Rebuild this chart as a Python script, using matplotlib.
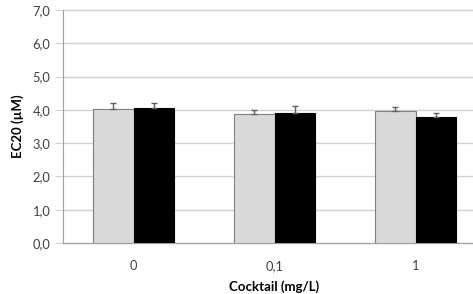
import matplotlib.pyplot as plt
import numpy as np

categories = ['0', '0,1', '1']
serie_gris = [4.02, 3.87, 3.97]
err_gris = [0.18, 0.12, 0.12]
serie_negra = [4.06, 3.90, 3.78]
err_negra = [0.14, 0.22, 0.13]
yticks = [0, 1, 2, 3, 4, 5, 6, 7]


def main():
    plt.rcParams['font.family'] = ['Lato', 'DejaVu Sans']
    fig = plt.figure(figsize=(4.73, 2.94), dpi=100)
    # plot area runs a little past the right edge, as in the original crop
    ax = fig.add_axes([63 / 473, 51 / 294, 423 / 473, 233 / 294])

    x = np.arange(len(categories))
    width = 0.284

    ax.bar(x - width / 2, serie_gris, width, color='#d9d9d9', edgecolor='#7f7f7f',
           linewidth=0.8, zorder=3)
    ax.bar(x + width / 2, serie_negra, width, color='black', edgecolor='black',
           linewidth=0.8, zorder=3)
    ax.errorbar(x - width / 2, serie_gris, yerr=[np.zeros(3), err_gris], fmt='none',
                ecolor='#606060', elinewidth=1, capsize=2.5, capthick=1, zorder=4)
    ax.errorbar(x + width / 2, serie_negra, yerr=[np.zeros(3), err_negra], fmt='none',
                ecolor='#606060', elinewidth=1, capsize=2.5, capthick=1, zorder=4)

    ax.set_xlim(-0.5, len(categories) - 0.5)
    ax.set_ylim(0, 7)
    ax.set_yticks(yticks)
    ax.set_yticklabels([('%.1f' % v).replace('.', ',') for v in yticks])
    ax.set_xticks(x)
    ax.set_xticklabels(categories)

    ax.yaxis.grid(True, color='#d0d0d0', linewidth=1, zorder=0, clip_on=False)
    ax.set_axisbelow(True)
    for side in ['top', 'right']:
        ax.spines[side].set_visible(False)
    ax.spines['left'].set_color('#a0a0a0')
    ax.spines['bottom'].set_color('#a0a0a0')
    ax.tick_params(axis='y', length=6, color='#d0d0d0', labelsize=9.3,
                   labelcolor='#404040', pad=3)
    ax.tick_params(axis='x', length=0, labelsize=9.3, labelcolor='#404040', pad=12)

    ax.set_ylabel('EC20 (µM)', fontsize=9.5, fontweight='bold', labelpad=6)
    ax.set_xlabel('Cocktail (mg/L)', fontsize=9.5, fontweight='bold', labelpad=6)

    fig.savefig('out.png', dpi=100)


if __name__ == "__main__":
    main()
